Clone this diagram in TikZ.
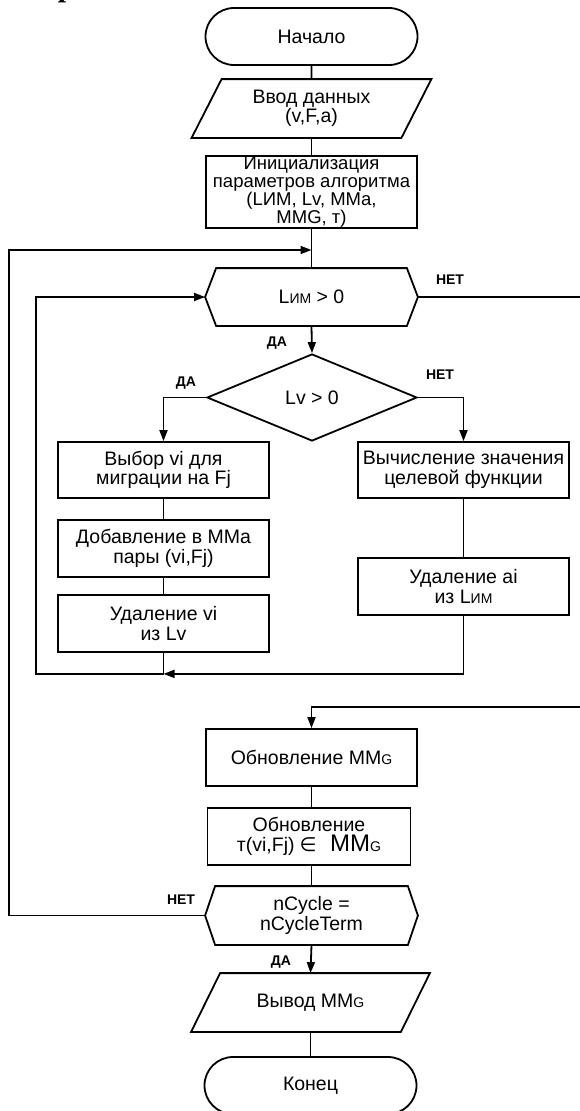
\documentclass[tikz,border=0pt]{standalone}
\usepackage{fontspec}
\setmainfont{Liberation Sans}
\newfontfamily\symfont{DejaVu Sans}
\newfontfamily\headfont{Liberation Serif}
\usetikzlibrary{arrows.meta,shapes.misc,shapes.geometric}

% reduced capitals used as index letters (L_{ИМ}, MM_G)
\newcommand\idxcap[1]{{\fontsize{14}{14}\selectfont #1}}
% outline of a preparation (hexagon) block drawn around a rectangular node
\newcommand\hexoutline[2]{\draw (#1.west) -- ([xshift=#2]#1.north west) -- ([xshift=-#2]#1.north east) -- (#1.east) -- ([xshift=-#2]#1.south east) -- ([xshift=#2]#1.south west) -- cycle;}
% outline of an input/output (parallelogram) block
\newcommand\iooutline[2]{\draw ([xshift=#2]#1.north west) -- (#1.north east) -- ([xshift=-#2]#1.south east) -- (#1.south west) -- cycle;}

\begin{document}
\begin{tikzpicture}[x=1pt,y=-1pt,
  line width=1.8pt,
  every node/.style={inner sep=0pt, align=center, font=\fontsize{19.5}{19.5}\selectfont},
  term/.style={rounded rectangle, draw, minimum width=212pt, minimum height=57pt},
  proc/.style={rectangle, draw, minimum width=211pt, minimum height=56pt},
  iobox/.style={rectangle, minimum width=238pt, minimum height=57pt},
  prep/.style={rectangle, minimum width=211pt, minimum height=56pt},
  cond/.style={diamond, draw, minimum width=210pt, minimum height=87pt},
  lbl/.style={font=\bfseries\fontsize{14}{14}\selectfont},
  flow/.style={-{Triangle[length=11pt,width=8pt]}},
]
\useasboundingbox (0,0) rectangle (580,1111);

% heading fragment above the chart
\node[font=\headfont\bfseries\fontsize{30}{30}\selectfont, anchor=base west] (head) at (57,-3.5) {р};

% main column
\node[term] (start) at (311.5,36.5) {Начало};
\node[iobox] (inp) at (311.5,108.5) {Ввод данных\\(v,F,a)};
\iooutline{inp}{30pt}
\node[proc, minimum height=72pt, font=\fontsize{18.5}{18}\selectfont] (init) at (311.5,192) {Инициализация\\параметров алгоритма\\(LИМ, Lv, MMa,\\MMG, т)};
\node[prep] (h1) at (311.5,297) {L\idxcap{ИМ} > 0};
\hexoutline{h1}{11pt}
\node[cond] (d1) at (312,397.5) {Lv > 0};

% left branch
\node[proc] (b1) at (163.5,470) {Выбор vi для\\миграции на Fj};
\node[proc, minimum height=57pt] (b2) at (163.5,548.5) {Добавление в MMa\\пары (vi,Fj)};
\node[proc, minimum height=57pt] (b3) at (163.5,623.5) {Удаление vi\\из Lv};

% right branch
\node[proc] (r1) at (463.5,470) {Вычисление значения\\целевой функции};
\node[proc, minimum height=57pt] (r2) at (463.5,586.5) {Удаление ai\\из L\idxcap{ИМ}};

% lower part
\node[proc, minimum height=57pt] (u1) at (311.5,757.5) {Обновление MM\idxcap{G}};
\node[proc, minimum width=203pt, minimum height=57pt] (u2) at (309,836.5) {Обновление\\т(vi,Fj)\hspace{0.25em}{\symfont ∈}\hspace{0.7em}{\fontsize{24}{24}\selectfont MM}\idxcap{G}};
\node[prep, minimum height=57pt] (h2) at (311.5,915.5) {nCycle =\\nCycleTerm};
\hexoutline{h2}{10pt}
\node[iobox, minimum width=237pt] (out) at (310.5,1002.5) {Вывод MM\idxcap{G}};
\iooutline{out}{29pt}
\node[term] (fin) at (310.5,1085.5) {Конец};

% branch labels
\node[lbl] (y1) at (277,343) {ДА};
\node[lbl] (n1) at (450,280) {НЕТ};
\node[lbl] (y2) at (186,383) {ДА};
\node[lbl] (n2) at (440,375) {НЕТ};
\node[lbl] (n3) at (181,900) {НЕТ};
\node[lbl] (y3) at (281,962) {ДА};

% junction points and free ends
\coordinate (j1) at (311.5,250);
\coordinate (eR1) at (580,297);
\coordinate (eR2) at (580,707);

% connectors
\draw (start) -- (inp);
\draw (inp) -- (init);
\draw (init.south) -- (h1.north);
\draw[flow] (h1.south) -- (d1.north);
\draw (h1.east) -- (eR1);
\draw[flow] (d1.west) -| (b1.north);
\draw[flow] (d1.east) -| (r1.north);
\draw (b1) -- (b2);
\draw (b2) -- (b3);
\draw (r1) -- (r2);
\draw[flow] (b3.south) -- ++(0,21) coordinate (m1) -- ++(-127.5,0) |- (h1.west);
\draw[flow] (r2.south) |- (m1);
\draw[flow] (eR2) -| (u1.north);
\draw (u1.south) -- (u1.south |- u2.north);
\draw (h2.north |- u2.south) -- (h2.north);
\draw[flow] (h2.west) -- ++(-196,0) |- (j1);
\draw[flow] (h2.south) -- (out.north);
\draw (out) -- (fin);
\end{tikzpicture}
\end{document}
